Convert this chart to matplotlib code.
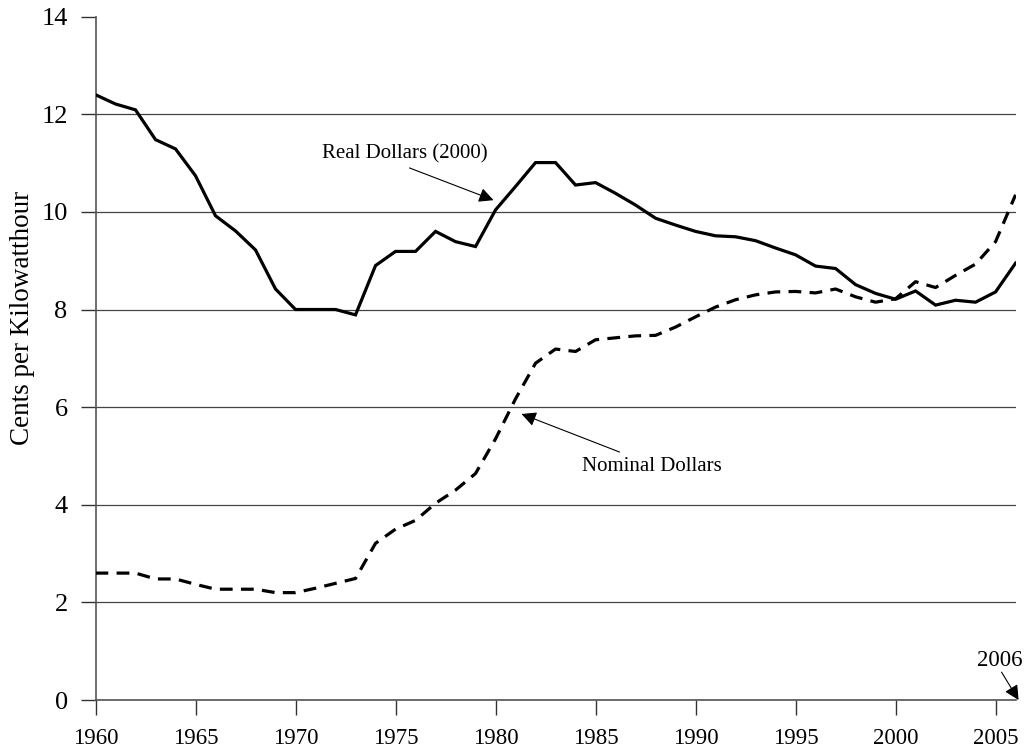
import numpy as np
import matplotlib
matplotlib.use("Agg")
import matplotlib.pyplot as plt

plt.rcParams['font.family'] = ['Liberation Serif', 'DejaVu Serif']

# price of electricity, cents per kWh
years = list(range(1960, 2007))
real_2000 = [12.40, 12.21, 12.09, 11.48, 11.29, 10.74, 9.92, 9.61, 9.22, 8.42,
             8.00, 8.00, 8.00, 7.89, 8.90, 9.19, 9.19, 9.60, 9.39, 9.29,
             10.04, 10.52, 11.01, 11.01, 10.55, 10.60, 10.38, 10.14, 9.87, 9.73,
             9.60, 9.51, 9.49, 9.41, 9.26, 9.12, 8.89, 8.84, 8.51, 8.33,
             8.21, 8.38, 8.09, 8.19, 8.15, 8.36, 8.95]
nominal = [2.60, 2.60, 2.60, 2.48, 2.48, 2.37, 2.27, 2.27, 2.27, 2.20,
           2.20, 2.29, 2.39, 2.49, 3.21, 3.50, 3.68, 4.03, 4.30, 4.64,
           5.35, 6.17, 6.90, 7.19, 7.14, 7.38, 7.42, 7.46, 7.47, 7.64,
           7.85, 8.05, 8.20, 8.30, 8.36, 8.37, 8.34, 8.42, 8.26, 8.15,
           8.22, 8.57, 8.45, 8.70, 8.93, 9.39, 10.35]

xticks = list(range(1960, 2006, 5))
yticks = list(range(0, 15, 2))

fig = plt.figure(figsize=(10.28, 7.49), dpi=100)
ax = fig.add_axes([0.0929, 0.0654, 0.895, 0.9124])

ax.plot(years, real_2000, color='black', lw=2.3, solid_joinstyle='miter', zorder=3)
ax.plot(years, nominal, color='black', lw=2.3, dashes=(4, 2.6), zorder=3)

ax.set_xlim(1960, 2006)
ax.set_ylim(0, 14)
ax.set_xticks(xticks)
ax.set_yticks(yticks)
ax.tick_params(axis='x', direction='out', length=11, width=1, color='#333333',
               labelsize=16.5, pad=9)
ax.tick_params(axis='y', direction='out', length=11, width=1, color='#333333',
               labelsize=19, pad=9)

for s in ['top', 'right']:
    ax.spines[s].set_visible(False)
for s in ['left', 'bottom']:
    ax.spines[s].set_color('#555555')
    ax.spines[s].set_linewidth(1.2)

ax.yaxis.grid(True, color='#444444', lw=0.9)
ax.get_ygridlines()[-1].set_visible(False)
ax.set_axisbelow(True)

ax.set_ylabel("Cents per Kilowatthour", fontsize=19.5, va='center')
ax.yaxis.set_label_coords(-0.0795, 0.559)

arrow = dict(arrowstyle='-|>', color='black', lw=0.8, mutation_scale=22,
             shrinkA=0, shrinkB=0)
ax.text(1975.45, 11.19, "Real Dollars (2000)", fontsize=15, ha='center', va='center')
ax.annotate('', xy=(1979.9, 10.24), xytext=(1975.7, 10.90), arrowprops=arrow)

ax.text(1987.8, 4.78, "Nominal Dollars", fontsize=15, ha='center', va='center')
ax.annotate('', xy=(1981.3, 5.86), xytext=(1986.2, 5.08), arrowprops=arrow)

ax.text(2005.2, 0.8, "2006", fontsize=16.5, ha='center', va='center', clip_on=False)
ax.annotate('', xy=(2006.15, 0.0), xytext=(2005.3, 0.57), arrowprops=arrow,
            annotation_clip=False)

fig.savefig("out.png", dpi=100)
